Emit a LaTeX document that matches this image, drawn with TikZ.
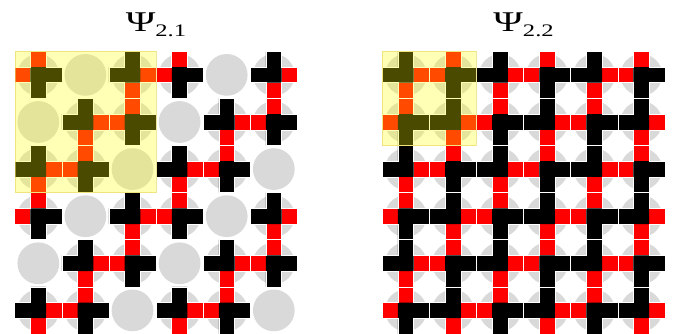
\documentclass[tikz,border=0pt]{standalone}
\usepackage{fontspec}
\setmainfont{Liberation Serif}
\usepackage{xcolor}
\usepackage{tikz}
\definecolor{LatRed}{HTML}{FF0000}
\definecolor{LatGray}{HTML}{D9D9D9}
\definecolor{LatHi}{HTML}{FFFF00}
\definecolor{LatHiEdge}{HTML}{E6D35A}
% one lattice site: gray disc, plus-shaped cross, two red arms
\newcommand{\siteE}[2]{\fill[LatGray] (#1,#2) circle (1.33);}
\newcommand{\siteA}[2]{%
\fill[LatGray] (#1,#2) circle (1.33);
\fill[LatRed] (#1,#2) ++(-0.5,0.5) rectangle ++(1,1);
\fill[LatRed] (#1,#2) ++(-1.5,-0.5) rectangle ++(1,1);
\fill[black] (#1,#2) ++(-0.5,0.5) -- ++(2,0) -- ++(0,-1) -- ++(-1,0) -- ++(0,-1) -- ++(-1,0) -- cycle;
\draw[white,line width=0.5pt] (#1,#2) ++(-0.5,1.5) -- ++(1,0) -- ++(0,-1) -- ++(1,0) -- ++(0,-1) -- ++(-1,0) -- ++(0,-1) -- ++(-1,0) -- ++(0,1) -- ++(-1,0) -- ++(0,1) -- ++(1,0) -- cycle;}
\newcommand{\siteB}[2]{%
\fill[LatGray] (#1,#2) circle (1.33);
\fill[LatRed] (#1,#2) ++(0.5,-0.5) rectangle ++(1,1);
\fill[LatRed] (#1,#2) ++(-0.5,-1.5) rectangle ++(1,1);
\fill[black] (#1,#2) ++(0.5,-0.5) -- ++(0,2) -- ++(-1,0) -- ++(0,-1) -- ++(-1,0) -- ++(0,-1) -- cycle;
\draw[white,line width=0.5pt] (#1,#2) ++(-0.5,1.5) -- ++(1,0) -- ++(0,-1) -- ++(1,0) -- ++(0,-1) -- ++(-1,0) -- ++(0,-1) -- ++(-1,0) -- ++(0,1) -- ++(-1,0) -- ++(0,1) -- ++(1,0) -- cycle;}
\newcommand{\psititle}[1]{\fontsize{24.4}{28}\selectfont\scalebox{1.4}[1]{Ψ\raisebox{-4.3pt}{\fontsize{15}{15}\selectfont #1}}}

\begin{document}
\begin{tikzpicture}[x=0.471cm,y=0.471cm]
\path[use as bounding box] (0,0) rectangle (42.93,21.27);
% left lattice
\siteA{2.44}{16.5} \siteE{5.44}{16.5} \siteB{8.44}{16.5} \siteA{11.44}{16.5} \siteE{14.44}{16.5} \siteB{17.44}{16.5}
\siteE{2.44}{13.5} \siteB{5.44}{13.5} \siteA{8.44}{13.5} \siteE{11.44}{13.5} \siteB{14.44}{13.5} \siteA{17.44}{13.5}
\siteB{2.44}{10.5} \siteA{5.44}{10.5} \siteE{8.44}{10.5} \siteB{11.44}{10.5} \siteA{14.44}{10.5} \siteE{17.44}{10.5}
\siteA{2.44}{7.5} \siteE{5.44}{7.5} \siteB{8.44}{7.5} \siteA{11.44}{7.5} \siteE{14.44}{7.5} \siteB{17.44}{7.5}
\siteE{2.44}{4.5} \siteB{5.44}{4.5} \siteA{8.44}{4.5} \siteE{11.44}{4.5} \siteB{14.44}{4.5} \siteA{17.44}{4.5}
\siteB{2.44}{1.5} \siteA{5.44}{1.5} \siteE{8.44}{1.5} \siteB{11.44}{1.5} \siteA{14.44}{1.5} \siteE{17.44}{1.5}
\fill[LatHi,opacity=0.29] (0.94,9) rectangle (9.94,18);
\draw[LatHiEdge,line width=0.4pt,opacity=0.6] (0.94,9) rectangle (9.94,18);
\node[anchor=base] (title21) at (9.94,19.24) {\psititle{2.1}};
% right lattice
\siteB{25.85}{16.5} \siteA{28.85}{16.5} \siteB{31.85}{16.5} \siteA{34.85}{16.5} \siteB{37.85}{16.5} \siteA{40.85}{16.5}
\siteA{25.85}{13.5} \siteB{28.85}{13.5} \siteA{31.85}{13.5} \siteB{34.85}{13.5} \siteA{37.85}{13.5} \siteB{40.85}{13.5}
\siteB{25.85}{10.5} \siteA{28.85}{10.5} \siteB{31.85}{10.5} \siteA{34.85}{10.5} \siteB{37.85}{10.5} \siteA{40.85}{10.5}
\siteA{25.85}{7.5} \siteB{28.85}{7.5} \siteA{31.85}{7.5} \siteB{34.85}{7.5} \siteA{37.85}{7.5} \siteB{40.85}{7.5}
\siteB{25.85}{4.5} \siteA{28.85}{4.5} \siteB{31.85}{4.5} \siteA{34.85}{4.5} \siteB{37.85}{4.5} \siteA{40.85}{4.5}
\siteA{25.85}{1.5} \siteB{28.85}{1.5} \siteA{31.85}{1.5} \siteB{34.85}{1.5} \siteA{37.85}{1.5} \siteB{40.85}{1.5}
\fill[LatHi,opacity=0.29] (24.35,12) rectangle (30.35,18);
\draw[LatHiEdge,line width=0.4pt,opacity=0.6] (24.35,12) rectangle (30.35,18);
\node[anchor=base] (title22) at (33.35,19.24) {\psititle{2.2}};
\end{tikzpicture}
\end{document}
